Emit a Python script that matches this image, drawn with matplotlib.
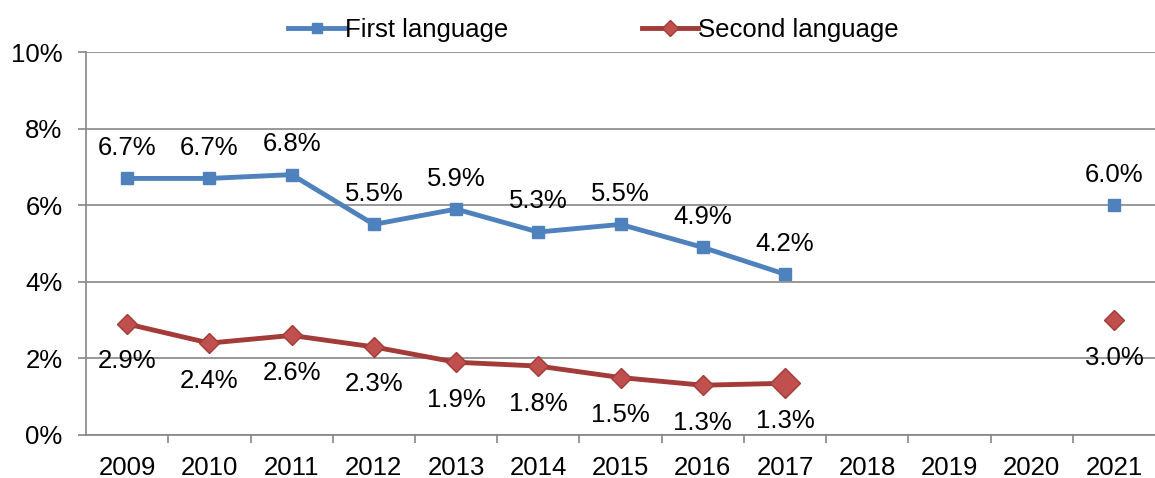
import matplotlib.pyplot as plt
import numpy as np

years = ['2009', '2010', '2011', '2012', '2013', '2014', '2015', '2016', '2017',
         '2018', '2019', '2020', '2021']
first_lang = [6.7, 6.7, 6.8, 5.5, 5.9, 5.3, 5.5, 4.9, 4.2, np.nan, np.nan, np.nan, 6.0]
second_lang = [2.9, 2.4, 2.6, 2.3, 1.9, 1.8, 1.5, 1.3, 1.35, np.nan, np.nan, np.nan, 3.0]
first_labels = ['6.7%', '6.7%', '6.8%', '5.5%', '5.9%', '5.3%', '5.5%', '4.9%', '4.2%', '', '', '', '6.0%']
second_labels = ['2.9%', '2.4%', '2.6%', '2.3%', '1.9%', '1.8%', '1.5%', '1.3%', '1.3%', '', '', '', '3.0%']

plt.rcParams['font.family'] = ['Liberation Sans', 'DejaVu Sans']

blue = '#4F81BD'
red_line = '#A33B38'
red_fill = '#C0504D'
gris = '#868686'
fs = 18.5

fig = plt.figure(figsize=(11.55, 4.78), dpi=100)
ax = fig.add_axes([0.0745, 0.09, 0.9255, 0.801])

x = np.arange(len(years))

# Series
ax.plot(x, first_lang, color=blue, lw=3.5, marker='s', ms=9,
        mfc=blue, mec=blue, label='First language', zorder=3)
ax.plot(x, second_lang, color=red_line, lw=3.5, marker='D', ms=10,
        mfc=red_fill, mec=red_line, label='Second language', zorder=3)
# marcador final resaltado
ax.plot(x[8], second_lang[8], marker='D', ms=15, mfc=red_fill, mec=red_line,
        ls='none', zorder=4)

# Etiquetas de datos
for xi, v, t in zip(x, first_lang, first_labels):
    if t:
        ax.annotate(t, (xi, v), xytext=(0, 22), textcoords='offset points',
                    ha='center', va='center', fontsize=fs)
for xi, v, t in zip(x, second_lang, second_labels):
    if t:
        ax.annotate(t, (xi, v), xytext=(0, -27), textcoords='offset points',
                    ha='center', va='center', fontsize=fs)

ax.set_xlim(-0.5, len(years) - 0.5)
ax.set_ylim(0, 10)
ax.set_yticks([0, 2, 4, 6, 8, 10])
ax.set_yticklabels(['0%', '2%', '4%', '6%', '8%', '10%'])
ax.set_xticks(x)
ax.set_xticklabels(years)
ax.set_xticks(np.arange(0.5, len(years) - 1, 1), minor=True)
ax.tick_params(axis='x', which='major', length=0, labelsize=fs, pad=15)
ax.tick_params(axis='x', which='minor', length=6, color=gris, width=1.2, direction='out')
ax.tick_params(axis='y', length=6, color=gris, width=1.2, labelsize=fs, pad=11)

ax.grid(axis='y', color=gris, lw=1.2)
ax.set_axisbelow(True)
for s in ['top', 'right']:
    ax.spines[s].set_visible(False)
for s in ['left', 'bottom']:
    ax.spines[s].set_color(gris)
    ax.spines[s].set_linewidth(1.2)

fig.legend(loc='upper center', bbox_to_anchor=(0.514, 1.01), ncol=2, frameon=False,
           fontsize=fs, handlelength=2.2, handletextpad=0.0, columnspacing=5.2,
           markerscale=0.8)

fig.savefig('out.png', dpi=100)
